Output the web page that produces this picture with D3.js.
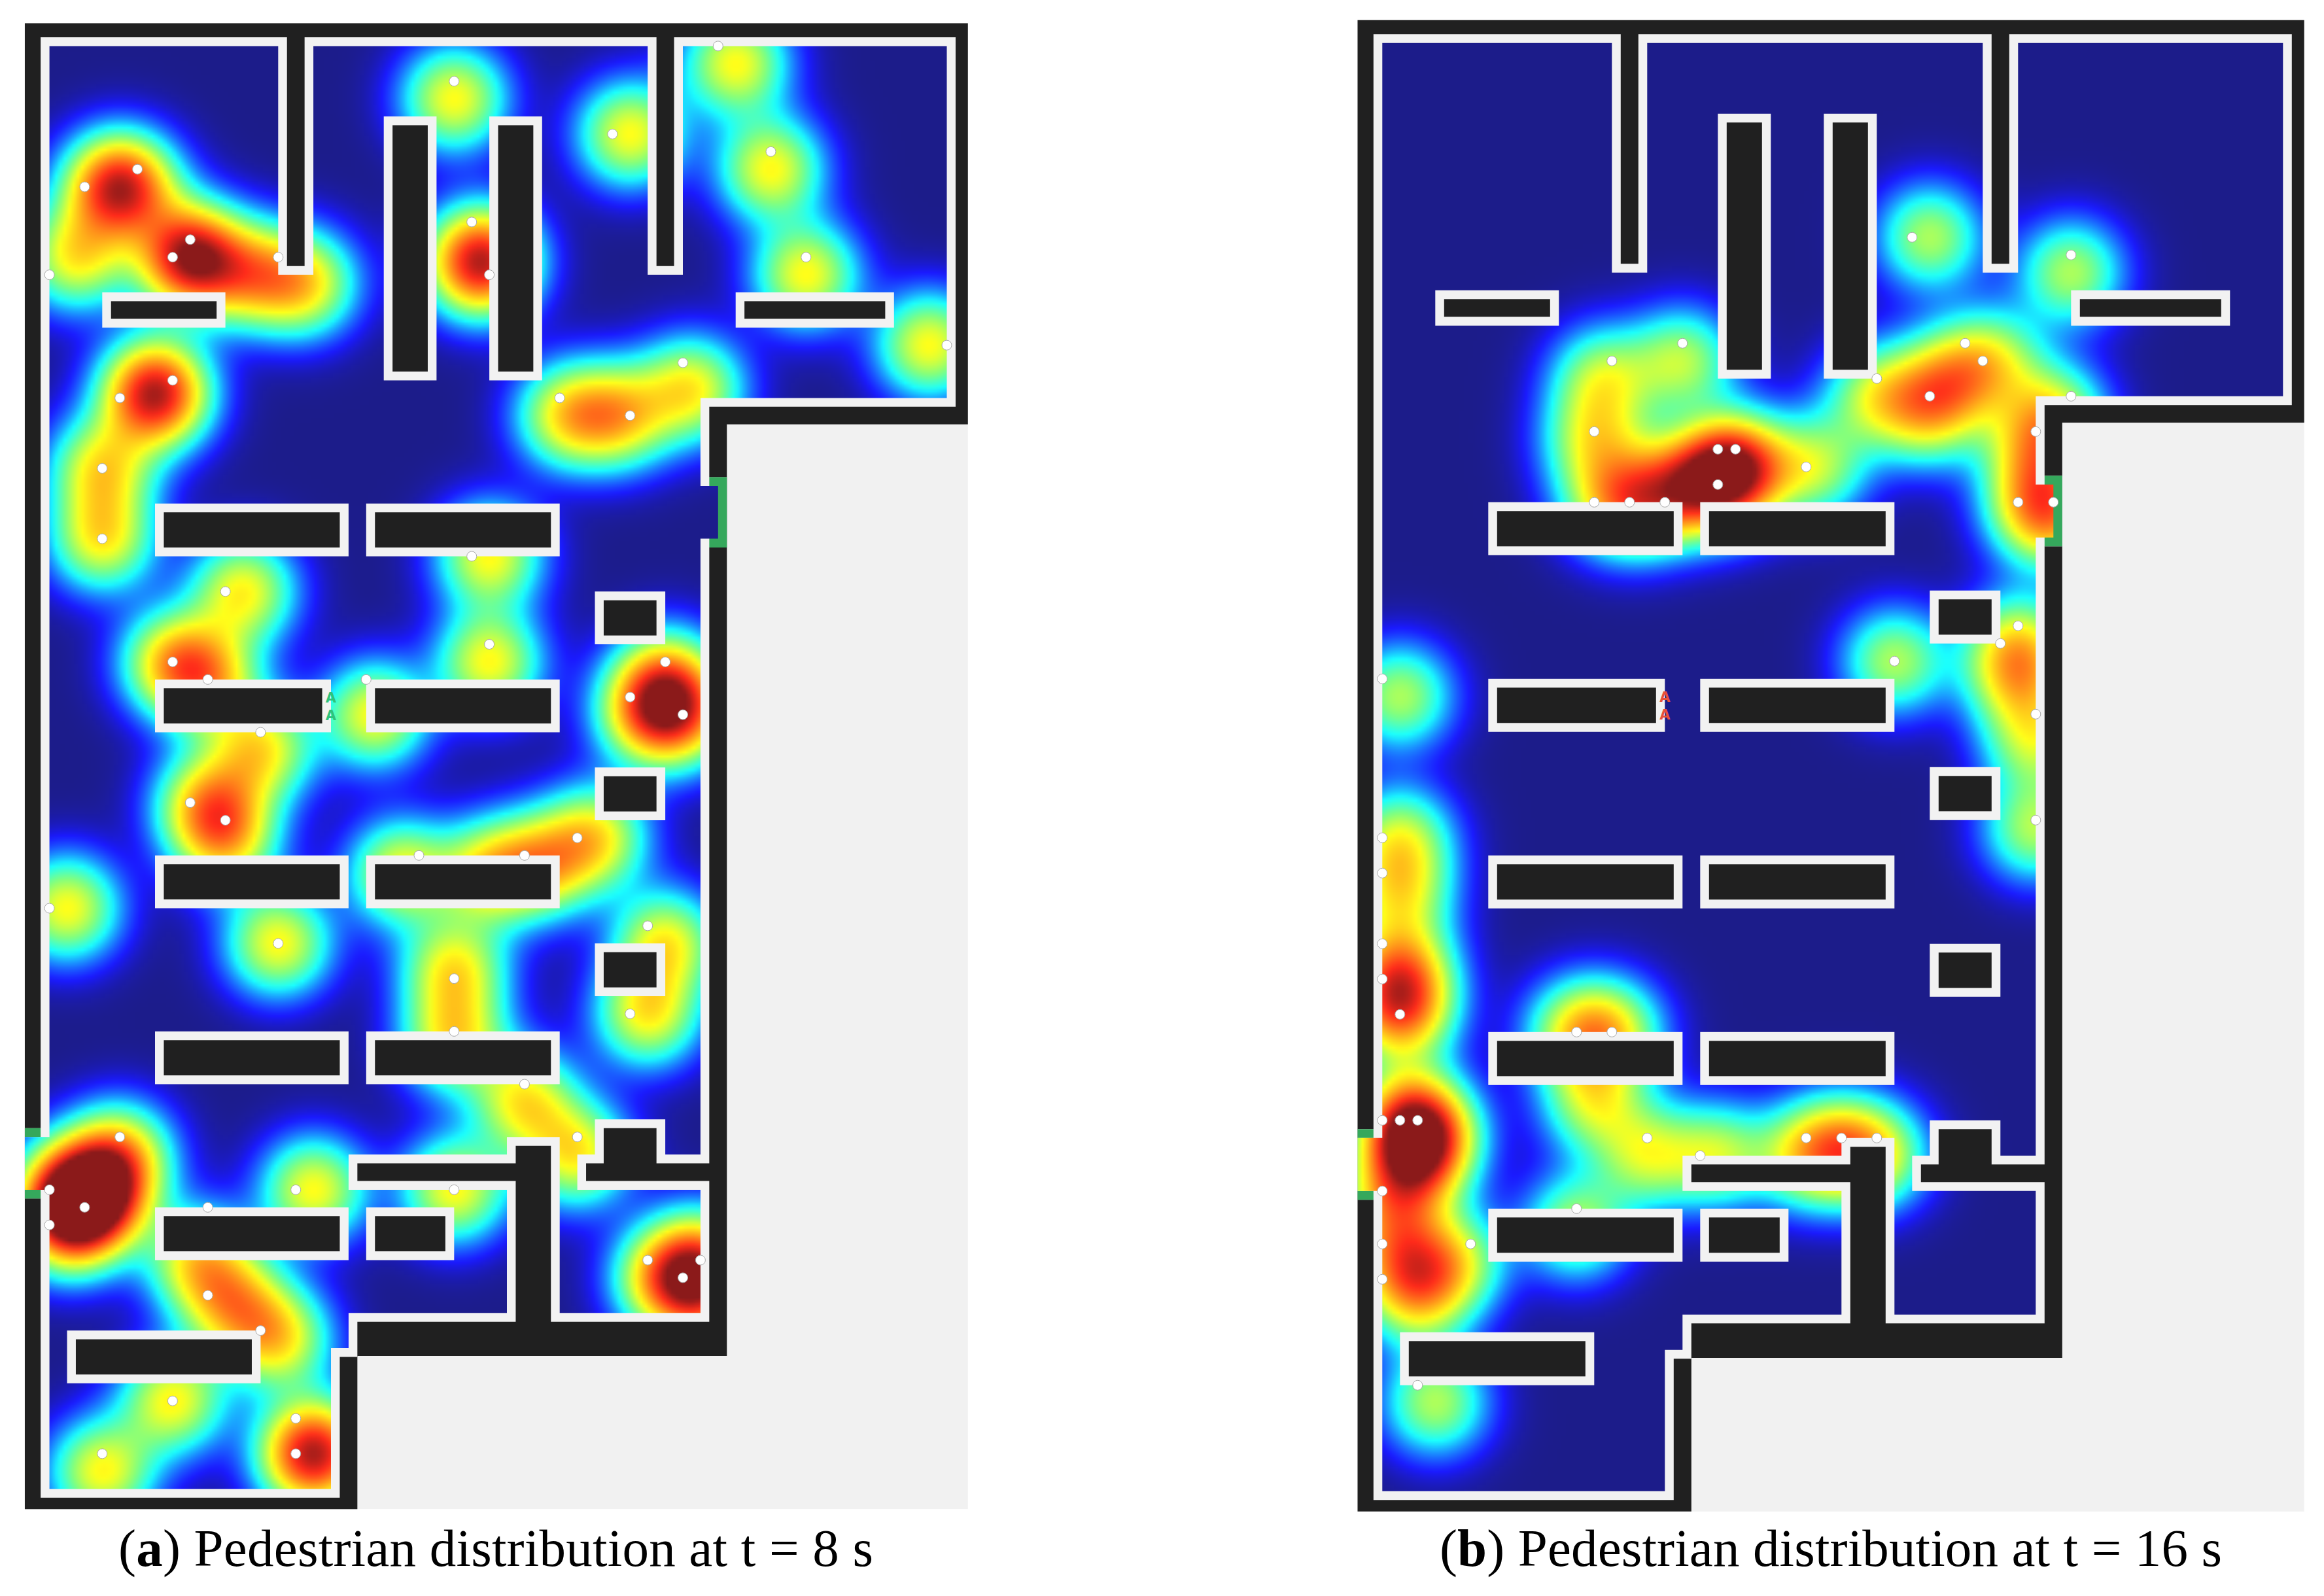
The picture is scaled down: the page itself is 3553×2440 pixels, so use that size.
<!DOCTYPE html>
<html><head><meta charset="utf-8">
<script src="https://cdn.jsdelivr.net/npm/d3@7"></script>
<style>html,body{margin:0;padding:0;background:#fff}svg{display:block}</style>
</head><body><div id="chart"></div>
<script>
// ---- data (grid column, grid row) ----
const walkable = [[0,0],[13,0],[13,13],[15,13],[15,0],[34,0],[34,13],[36,13],[36,0],[51,0],[51,20],[37,20],[37,25],[38,25],[38,28],[37,28],[37,63],[35,63],[35,61],[31,61],[31,63],[30,63],[30,65],[37,65],[37,72],[29,72],[29,62],[26,62],[26,63],[17,63],[17,65],[26,65],[26,72],[17,72],[17,74],[16,74],[16,82],[0,82],[0,65],[-1.4,65],[-1.4,62],[0,62]];
const building = [[-1.4,-1.3],[52.2,-1.3],[52.2,21.5],[38.5,21.5],[38.5,74.45],[17.5,74.45],[17.5,83.15],[-1.4,83.15]];
const obstacles = [[3,14,10,16],[39,14,48,16],[19,4,22,19],[25,4,28,19],[6,26,17,29],[18,26,29,29],[31,31,35,34],[6,36,16,39],[18,36,29,39],[31,41,35,44],[6,46,17,49],[18,46,29,49],[31,51,35,54],[6,56,17,59],[18,56,29,59],[6,66,17,69],[18,66,23,69],[1,73,12,76]];
const doors = [[37.5,24.5,38.5,28.5],[-1.4,61.5,-0.5,62],[-1.4,65,-0.5,65.5]];
const signRows = [37,38];
const signCol = 16;

const pedestriansA = [[38,0],[23,2],[32,5],[41,6],[5,7],[2,8],[24,10],[8,11],[7,12],[13,12],[43,12],[0,13],[25,13],[51,17],[36,18],[7,19],[4,20],[29,20],[33,21],[3,24],[3,28],[24,29],[10,31],[25,34],[7,35],[35,35],[9,36],[18,36],[33,37],[36,38],[12,39],[8,43],[10,44],[30,45],[21,46],[27,46],[0,49],[34,50],[13,51],[23,53],[33,55],[23,56],[27,59],[4,62],[30,62],[0,65],[14,65],[23,65],[2,66],[9,66],[0,67],[34,69],[37,69],[36,70],[9,71],[12,73],[7,77],[14,78],[3,80],[14,80]];
const heatA = [[39,1],[23,3],[33,5],[41,7],[3.5,8],[4.5,8],[24.5,12],[24.5,12.5],[8,12],[8,12],[11.5,13],[14.5,13.5],[43,13],[1.5,12],[50,17],[36.5,19.5],[6,20],[6,19.5],[29.5,21],[32.5,21],[3,24],[3,28],[25,29],[11,31],[25,35],[7,35],[35,36],[9,36],[18.5,38],[34,38],[36,38],[12,40],[9,43],[10,45],[31,45],[20,47],[25,47],[28,46.5],[1,49],[35,51],[13,51],[23,52.5],[34,55],[23,56.5],[27,60],[4,63],[3,65],[30,63],[1,65],[15,65],[23,65],[2,66],[8.5,69],[10.5,71.5],[1,67],[35,70],[37,69],[37,71],[13,73.5],[7,77],[15,80],[15,80],[3,81]];
const pedestriansB = [[30,11],[39,12],[17,17],[33,17],[13,18],[34,18],[28,19],[31,20],[39,20],[12,22],[37,22],[19,23],[20,23],[24,24],[19,25],[12,26],[14,26],[16,26],[36,26],[38,26],[36,33],[35,34],[29,35],[0,36],[37,38],[37,44],[0,45],[0,47],[0,51],[0,53],[1,55],[11,56],[13,56],[0,61],[1,61],[2,61],[15,62],[24,62],[26,62],[28,62],[18,63],[0,65],[11,66],[0,68],[5,68],[0,70],[2,76]];
const heatB = [[31,11],[39,13],[17,18],[12.5,19],[12,22.5],[13,26],[15,26],[17,25],[20,24],[20,24],[19,25],[24.5,24],[32,19],[34.5,18],[31,21],[28,20],[38,21],[37,23],[37,26],[38,27],[36,34],[36,36],[29,35],[1,37],[37,39.5],[37,44.5],[1,45],[1,48],[1,52],[1,54],[1,55],[11,56],[13,56],[1.5,60.5],[2,62],[1.5,63.5],[2.5,62],[15,63],[19,63],[12,60],[24,63],[26,62.5],[28,63],[0.5,66],[11,67],[1,69],[2,71],[4,69],[3,77]];

const densityStops = [0,0.12,0.45,0.7,1.0,1.35,1.75,2.1];
const densityColors = ["#1c1c8a","#1a1aff","#1affff","#80ff80","#ffff1a","#ff9a1a","#ff2a1a","#8b1a1a"];

const panels = [
 {id:"a",letter:"a",rest:" Pedestrian distribution at t = 8 s",x0:75.6,y0:70.4,u:26.9,ped:pedestriansA,heat:heatA,gain:1,sign:"#2fc27a",tx:181,tw:1154},
 {id:"b",letter:"b",rest:" Pedestrian distribution at t = 16 s",x0:2113.3,y0:65.8,u:27,ped:pedestriansB,heat:heatB,gain:0.8,sign:"#e8503a",tx:2201,tw:1196}
];

const W=3553,H=2440,sigma=2,step=0.25;
const color=d3.scaleLinear().domain(densityStops).range(densityColors).interpolate(d3.interpolateRgb).clamp(true);
const svg=d3.select("#chart").append("svg").attr("width",W).attr("height",H).attr("viewBox",[0,0,W,H]);
const defs=svg.append("defs");

panels.forEach(p=>{
  const x=d3.scaleLinear().domain([0,51]).range([p.x0,p.x0+51*p.u]);
  const y=d3.scaleLinear().domain([0,82]).range([p.y0,p.y0+82*p.u]);
  const line=d3.line().x(d=>x(d[0])).y(d=>y(d[1])).curve(d3.curveLinearClosed);
  const g=svg.append("g").attr("class","panel-"+p.id);
  defs.append("clipPath").attr("id","walk"+p.id).append("path").attr("d",line(walkable));
  defs.append("clipPath").attr("id","bld"+p.id).append("path").attr("d",line(building));

  g.append("rect").attr("x",x(-1.4)).attr("y",y(-1.3)).attr("width",x(52.2)-x(-1.4)).attr("height",y(83.15)-y(-1.3)).attr("fill","#f1f1f1");
  g.append("path").attr("d",line(building)).attr("fill","#202020");
  g.append("g").attr("clip-path",`url(#bld${p.id})`).append("path").attr("d",line(walkable))
    .attr("fill","#f2f2f2").attr("stroke","#f2f2f2").attr("stroke-width",p.u).attr("stroke-linejoin","miter").attr("stroke-miterlimit",4);
  g.selectAll("rect.door").data(doors).join("rect").attr("class","door")
    .attr("x",d=>x(d[0])).attr("y",d=>y(d[1])).attr("width",d=>x(d[2])-x(d[0])).attr("height",d=>y(d[3])-y(d[1])).attr("fill","#35a85c");

  // density raster
  const c0=-1.5,r0=-1.5,nx=Math.round(54/step),ny=Math.round(85/step);
  const cv=document.createElement("canvas");cv.width=nx;cv.height=ny;
  const ctx=cv.getContext("2d"),img=ctx.createImageData(nx,ny);
  const k=1/(2*sigma*sigma);
  for(let j=0;j<ny;j++)for(let i=0;i<nx;i++){
    const cc=c0+(i+.5)*step,rr=r0+(j+.5)*step;let s=0;
    for(const h of p.heat){const dx=cc-h[0],dy=rr-h[1];s+=Math.exp(-(dx*dx+dy*dy)*k);}
    const col=d3.rgb(color(s*p.gain)),o=(j*nx+i)*4;
    img.data[o]=col.r;img.data[o+1]=col.g;img.data[o+2]=col.b;img.data[o+3]=255;
  }
  ctx.putImageData(img,0,0);
  g.append("g").attr("clip-path",`url(#walk${p.id})`).append("image")
    .attr("href",cv.toDataURL()).attr("x",x(c0)).attr("y",y(r0)).attr("width",x(c0+54)-x(c0)).attr("height",y(r0+85)-y(r0)).attr("preserveAspectRatio","none");

  // obstacles
  g.selectAll("rect.ob").data(obstacles).join("rect").attr("class","ob")
    .attr("x",d=>x(d[0])).attr("y",d=>y(d[1])).attr("width",d=>x(d[2])-x(d[0])).attr("height",d=>y(d[3])-y(d[1])).attr("fill","#f2f2f2");
  g.selectAll("rect.obi").data(obstacles).join("rect").attr("class","obi")
    .attr("x",d=>x(d[0]+.5)).attr("y",d=>y(d[1]+.5)).attr("width",d=>x(d[2]-.5)-x(d[0]+.5)).attr("height",d=>y(d[3]-.5)-y(d[1]+.5)).attr("fill","#202020");

  g.selectAll("text.sign").data(signRows).join("text").attr("class","sign")
    .attr("x",x(signCol)).attr("y",d=>y(d)+8).attr("text-anchor","middle")
    .attr("font-family","DejaVu Sans").attr("font-weight","bold").attr("font-size",21).attr("fill",p.sign).text("A");

  g.selectAll("circle").data(p.ped).join("circle")
    .attr("cx",d=>x(d[0])).attr("cy",d=>y(d[1])).attr("r",7.5).attr("fill","#fff").attr("stroke","#aaa").attr("stroke-width",1);

  const t=g.append("text").attr("x",p.tx).attr("y",2394).attr("font-family","Liberation Serif").attr("font-size",81).attr("fill","#000")
    .attr("textLength",p.tw).attr("lengthAdjust","spacing");
  t.append("tspan").text("(");
  t.append("tspan").attr("font-weight","bold").text(p.letter);
  t.append("tspan").text(")"+p.rest);
});
</script></body></html>
